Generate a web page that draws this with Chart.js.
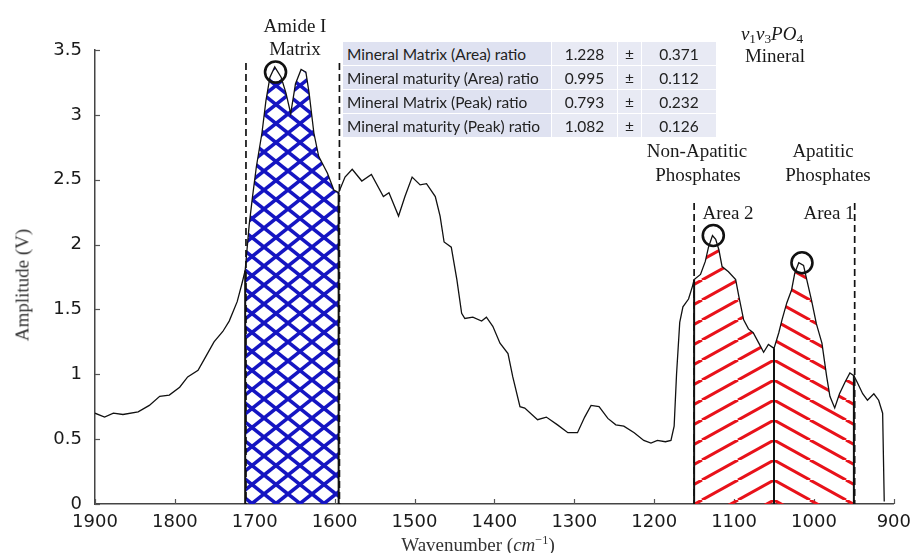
<!DOCTYPE html>
<html>
<head>
<meta charset="utf-8"/>
<script src="https://cdn.jsdelivr.net/npm/chart.js@4"></script>
<style>
  body { margin: 0; background: #fff; }
  #wrap { position: relative; width: 919px; height: 553px; overflow: hidden; }
  .note {
    position: absolute; transform: translate(-50%, -50%);
    font-family: "Liberation Serif", "Times New Roman", serif; font-size: 19px;
    color: #1a1a1a; white-space: nowrap; line-height: 1;
  }
  .note sub { font-size: 0.7em; vertical-align: -0.25em; line-height: 0; }
  .note sup { font-size: 0.65em; vertical-align: 0.55em; line-height: 0; }
  #ytitle { transform: translate(-50%, -50%) rotate(-90deg); color: #333; }
  #ratios {
    position: absolute; left: 343px; top: 42px;
    border-collapse: separate; border-spacing: 0; table-layout: fixed;
    font-family: Lato, "Open Sans", sans-serif; font-size: 15.5px; color: #222;
  }
  #ratios td {
    height: 22px; padding: 1px 0 0 0; background: #e8eaf4;
    border-right: 1px solid #fff; border-bottom: 1px solid #fff;
    text-align: center; white-space: nowrap; overflow: hidden;
  }
  #ratios td.name { text-align: left; padding-left: 4px; background: #dfe2f1; }
</style>
</head>
<body>
<div id="wrap">
  <canvas id="myChart" width="919" height="553"></canvas>

  <div class="note" style="left:295px; top:25px;">Amide I</div>
  <div class="note" style="left:295px; top:48px;">Matrix</div>
  <div class="note" style="left:772px; top:33px;"><i>v</i><sub>1</sub><i>v</i><sub>3</sub><i>PO</i><sub>4</sub></div>
  <div class="note" style="left:775px; top:55px;">Mineral</div>
  <div class="note" style="left:697px; top:150px;">Non-Apatitic</div>
  <div class="note" style="left:698px; top:174px;">Phosphates</div>
  <div class="note" style="left:823px; top:150px;">Apatitic</div>
  <div class="note" style="left:828px; top:174px;">Phosphates</div>
  <div class="note" style="left:728px; top:212px;">Area 2</div>
  <div class="note" style="left:829px; top:212px;">Area 1</div>
  <div class="note" id="ytitle" style="left:22px; top:285px;">Amplitude (V)</div>
  <div class="note" style="left:478px; top:544px; color:#333;">Wavenumber (<i>cm</i><sup>−1</sup>)</div>

  <table id="ratios">
    <colgroup><col style="width:209px"><col style="width:66px"><col style="width:24px"><col style="width:75px"></colgroup>
    <tbody></tbody>
  </table>
</div>

<script>
// spectrum (wavenumber cm-1, amplitude V)
const wavenumbers = [
  1900, 1888, 1877, 1865, 1846, 1832, 1819, 1807, 1794, 1784, 1771, 1761, 1751, 1740, 1732, 1722,
  1716, 1712, 1707, 1703, 1698, 1691, 1686, 1681, 1675, 1667, 1661, 1655, 1649, 1642, 1636, 1632,
  1626, 1620, 1609, 1601, 1595, 1587, 1578, 1566, 1554, 1539, 1532, 1520, 1512, 1503, 1493, 1485,
  1474, 1468, 1463, 1454, 1447, 1441, 1437, 1427, 1416, 1410, 1402, 1393, 1383, 1377, 1368, 1362,
  1346, 1335, 1321, 1308, 1296, 1287, 1279, 1269, 1258, 1248, 1238, 1225, 1213, 1204, 1196, 1186,
  1179, 1175, 1172, 1168, 1164, 1157, 1152, 1150, 1142, 1136, 1132, 1127, 1123, 1119, 1115, 1107,
  1098, 1094, 1088, 1082, 1076, 1069, 1063, 1057, 1050, 1044, 1040, 1034, 1028, 1024, 1019, 1013,
  1009, 1003, 997, 990, 984, 980, 974, 968, 961, 955, 950, 946, 939, 933, 925, 919,
  914, 912
];
const amplitude = [
  0.70, 0.67, 0.70, 0.69, 0.71, 0.76, 0.83, 0.84, 0.90, 0.98, 1.03, 1.14, 1.25, 1.33, 1.41, 1.56,
  1.70, 1.80, 2.15, 2.36, 2.60, 2.86, 3.11, 3.29, 3.37, 3.29, 3.17, 3.01, 3.24, 3.35, 3.33, 3.17,
  2.86, 2.68, 2.55, 2.42, 2.40, 2.52, 2.58, 2.49, 2.54, 2.37, 2.40, 2.22, 2.37, 2.52, 2.46, 2.47,
  2.37, 2.22, 2.02, 1.98, 1.73, 1.47, 1.43, 1.44, 1.41, 1.44, 1.37, 1.24, 1.16, 0.98, 0.75, 0.74,
  0.65, 0.67, 0.61, 0.55, 0.55, 0.67, 0.76, 0.75, 0.66, 0.61, 0.60, 0.55, 0.49, 0.47, 0.49, 0.48,
  0.49, 0.60, 1.00, 1.40, 1.52, 1.58, 1.68, 1.73, 1.77, 1.87, 1.98, 2.07, 2.04, 1.96, 1.83, 1.79,
  1.73, 1.60, 1.42, 1.35, 1.32, 1.24, 1.17, 1.23, 1.20, 1.32, 1.42, 1.55, 1.65, 1.78, 1.86, 1.84,
  1.73, 1.57, 1.39, 1.24, 0.98, 0.83, 0.74, 0.85, 0.94, 1.01, 0.99, 0.94, 0.85, 0.80, 0.85, 0.80,
  0.70, 0.02
];

const xTicks = [1900, 1800, 1700, 1600, 1500, 1400, 1300, 1200, 1100, 1000, 900];
const yTicks = [0, 0.5, 1, 1.5, 2, 2.5, 3, 3.5];

// integration bands [low, high]
const amideBand = [1595, 1712];
const area2Band = [1050, 1150];
const area1Band = [950, 1050];

// solid band edges
const edgeAt = [1712, 1595, 1150, 1050, 950];

// dashed markers
const dashedAt = [1711, 1594, 1150, 949];
const dashedTop = [3.40, 3.40, 2.32, 2.32];

// circled peaks
const peakX = [1674, 1126, 1015];
const peakY = [3.33, 2.07, 1.86];

// ratio table
const ratioNames = ["Mineral Matrix (Area) ratio", "Mineral maturity (Area) ratio", "Mineral Matrix (Peak) ratio", "Mineral maturity (Peak) ratio"];
const ratioMeans = ["1.228", "0.995", "0.793", "1.082"];
const ratioSD = ["0.371", "0.112", "0.232", "0.126"];

const tbody = document.querySelector('#ratios tbody');
ratioNames.forEach((n, i) => {
  const tr = document.createElement('tr');
  tr.innerHTML = '<td class="name">' + n + '</td><td>' + ratioMeans[i] + '</td><td>±</td><td>' + ratioSD[i] + '</td>';
  tbody.appendChild(tr);
});

function band(lo, hi) {
  const pts = [{ x: hi, y: 0 }];
  wavenumbers.forEach((w, i) => {
    if (w <= hi && w >= lo) pts.push({ x: w, y: amplitude[i] });
  });
  pts.push({ x: lo, y: 0 });
  return pts;
}

// ----------------------------
// hatch patterns
function crossHatch() {
  const w = 24, h = 19;
  const c = document.createElement('canvas');
  c.width = w; c.height = h;
  const g = c.getContext('2d');
  g.strokeStyle = '#1515c2';
  g.lineWidth = 3.6;
  for (const k of [-1, 0, 1]) {
    g.beginPath(); g.moveTo(k * w, 0); g.lineTo(k * w + w, h); g.stroke();
    g.beginPath(); g.moveTo(k * w, h); g.lineTo(k * w + w, 0); g.stroke();
  }
  return g.createPattern(c, 'repeat');
}

function lineHatch(rising, x0) {
  const w = 36, h = 20;
  const c = document.createElement('canvas');
  c.width = w; c.height = h;
  const g = c.getContext('2d');
  g.strokeStyle = '#e8121a';
  g.lineWidth = 3;
  for (const k of [-1, 0, 1]) {
    g.beginPath();
    if (rising) { g.moveTo(k * w, h); g.lineTo(k * w + w, 0); }
    else { g.moveTo(k * w, 0); g.lineTo(k * w + w, h); }
    g.stroke();
  }
  const p = g.createPattern(c, 'repeat');
  p.setTransform(new DOMMatrix().translate(x0, 0));
  return p;
}

function hatchFor(kind) {
  return (ctx) => {
    const chart = ctx.chart;
    if (!chart.scales || !chart.scales.x) return 'rgba(0,0,0,0)';
    if (kind === 'cross') return crossHatch();
    const xm = chart.scales.x.getPixelForValue(area2Band[0]);
    return lineHatch(kind === 'rising', xm);
  };
}

// inward tick marks, drawn under the fills
const innerTicks = {
  id: 'innerTicks',
  beforeDatasetsDraw(chart) {
    const { ctx, chartArea: a, scales: { x, y } } = chart;
    ctx.save();
    ctx.strokeStyle = '#555';
    ctx.lineWidth = 1.2;
    xTicks.forEach(v => {
      const px = Math.round(x.getPixelForValue(v)) + 0.5;
      ctx.beginPath(); ctx.moveTo(px, a.bottom); ctx.lineTo(px, a.bottom - 5); ctx.stroke();
    });
    yTicks.forEach(v => {
      const py = Math.round(y.getPixelForValue(v)) + 0.5;
      ctx.beginPath(); ctx.moveTo(a.left, py); ctx.lineTo(a.left + 5, py); ctx.stroke();
    });
    ctx.restore();
  }
};

const datasets = [
  {
    label: 'Spectrum',
    data: wavenumbers.map((w, i) => ({ x: w, y: amplitude[i] })),
    borderColor: '#111', borderWidth: 1.3, pointRadius: 0, fill: false, order: 1
  },
  {
    label: 'Peaks',
    data: peakX.map((w, i) => ({ x: w, y: peakY[i] })),
    showLine: false, pointRadius: 10.5, pointBorderWidth: 2.6,
    pointBorderColor: '#111', pointBackgroundColor: 'rgba(0,0,0,0)', order: 0
  },
  {
    label: 'Amide I', data: band(amideBand[0], amideBand[1]),
    borderWidth: 0, pointRadius: 0,
    fill: 'origin', backgroundColor: hatchFor('cross'), order: 4
  },
  {
    label: 'Area 2', data: band(area2Band[0], area2Band[1]),
    borderWidth: 0, pointRadius: 0,
    fill: 'origin', backgroundColor: hatchFor('rising'), order: 4
  },
  {
    label: 'Area 1', data: band(area1Band[0], area1Band[1]),
    borderWidth: 0, pointRadius: 0,
    fill: 'origin', backgroundColor: hatchFor('falling'), order: 4
  }
];

edgeAt.forEach((w, i) => {
  const top = amplitude[wavenumbers.indexOf(w)];
  datasets.push({
    label: 'edge' + i,
    data: [{ x: w, y: 0 }, { x: w, y: top }],
    borderColor: '#111', borderWidth: 2, pointRadius: 0, fill: false, order: 3
  });
});

dashedAt.forEach((w, i) => {
  datasets.push({
    label: 'marker' + i,
    data: [{ x: w, y: dashedTop[i] }, { x: w, y: 0 }],
    borderColor: '#111', borderWidth: 1.7, borderDash: [7, 4],
    pointRadius: 0, fill: false, order: 2
  });
});

const tickFont = { family: 'DejaVu Sans', size: 18 };

new Chart(document.getElementById('myChart'), {
  type: 'line',
  data: { datasets },
  plugins: [innerTicks],
  options: {
    responsive: false,
    animation: false,
    devicePixelRatio: 1,
    layout: { padding: { left: 0, right: 22, top: 50, bottom: 0 } },
    plugins: { legend: { display: false }, tooltip: { enabled: false } },
    elements: { line: { tension: 0 } },
    scales: {
      x: {
        type: 'linear', reverse: true, min: 900, max: 1900,
        afterFit: s => { s.height = 49; },
        afterBuildTicks: s => { s.ticks = xTicks.map(v => ({ value: v })); },
        grid: { display: false, drawTicks: false },
        border: { display: true, color: '#444', width: 1.5 },
        ticks: { color: '#1a1a1a', font: tickFont, padding: 8, maxRotation: 0, autoSkip: false, callback: v => String(v) }
      },
      y: {
        min: 0, max: 3.5,
        afterFit: s => { s.width = 95; },
        afterBuildTicks: s => { s.ticks = yTicks.map(v => ({ value: v })); },
        grid: { display: false, drawTicks: false },
        border: { display: true, color: '#444', width: 1.5 },
        ticks: { color: '#1a1a1a', font: tickFont, padding: 13, callback: v => String(v) }
      }
    }
  }
});
</script>
</body>
</html>
